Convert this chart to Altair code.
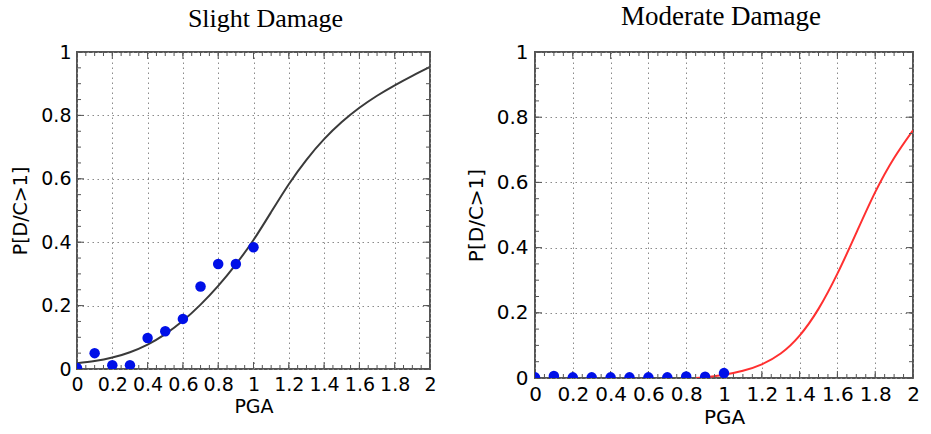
import altair as alt
import pandas as pd

# ---- data ----
pga_points = [0.0, 0.1, 0.2, 0.3, 0.4, 0.5, 0.6, 0.7, 0.8, 0.9, 1.0]
slight_points = [0.003, 0.05, 0.012, 0.012, 0.098, 0.119, 0.158, 0.26, 0.331, 0.331, 0.384]
moderate_points = [0.002, 0.006, 0.002, 0.002, 0.002, 0.002, 0.002, 0.002, 0.005, 0.004, 0.015]

slight_curve_x = [0.0, 0.1, 0.2, 0.3, 0.4, 0.5, 0.6, 0.7, 0.8, 0.9, 1.0,
                  1.1, 1.2, 1.3, 1.4, 1.5, 1.6, 1.7, 1.8, 1.9, 2.0]
slight_curve_y = [0.018, 0.025, 0.036, 0.053, 0.077, 0.11, 0.152, 0.203, 0.262, 0.33, 0.407,
                  0.495, 0.583, 0.66, 0.725, 0.779, 0.824, 0.862, 0.895, 0.925, 0.953]

moderate_curve_x = [0.85, 0.9, 1.0, 1.1, 1.2, 1.3, 1.4, 1.5, 1.6, 1.7, 1.8, 1.9, 2.0]
moderate_curve_y = [0.0, 0.002, 0.01, 0.022, 0.042, 0.075, 0.13, 0.212, 0.32, 0.445, 0.57, 0.675, 0.76]

x_major = [0.0, 0.2, 0.4, 0.6, 0.8, 1.0, 1.2, 1.4, 1.6, 1.8, 2.0]
y_major = [0.0, 0.2, 0.4, 0.6, 0.8, 1.0]
x_minor = [round(i * 0.05, 2) for i in range(41)]
y_minor = [round(i * 0.05, 2) for i in range(21)]

FRAME = "#555555"


def panel(title, cx, cy, py, line_color, w, h, label_size, title_size, title_dx, y_label_pad):
    xs = alt.Scale(domain=[0, 2], nice=False, zero=False)
    ys = alt.Scale(domain=[0, 1], nice=False, zero=False)
    xaxis = alt.Axis(values=x_major, format="~g", title="PGA", grid=True,
                     labelFontSize=label_size, titleFontSize=label_size,
                     labelPadding=6, titlePadding=3)
    yaxis = alt.Axis(values=y_major, format="~g", title="P[D/C>1]", grid=True,
                     labelFontSize=label_size, titleFontSize=label_size,
                     labelPadding=y_label_pad, titlePadding=10)
    X = alt.X("x:Q", scale=xs, axis=xaxis)
    Y = alt.Y("y:Q", scale=ys, axis=yaxis)

    curve = alt.Chart(pd.DataFrame({"x": cx, "y": cy})).mark_line(
        color=line_color, strokeWidth=2, interpolate="natural", clip=True
    ).encode(x=X, y=Y)

    pts = alt.Chart(pd.DataFrame({"x": pga_points, "y": py})).mark_point(
        filled=True, color="#0010e8", opacity=1, size=110, clip=True
    ).encode(x=X, y=Y)

    xmin_df = pd.DataFrame({"x": x_minor})
    xmaj_df = pd.DataFrame({"x": x_major})
    ymin_df = pd.DataFrame({"y": y_minor})
    ymaj_df = pd.DataFrame({"y": y_major})

    def xticks(df, length):
        b = alt.Chart(df).mark_rule(color=FRAME, strokeWidth=1).encode(
            x=X, y=alt.value(h), y2=alt.value(h - length))
        t = alt.Chart(df).mark_rule(color=FRAME, strokeWidth=1).encode(
            x=X, y=alt.value(0), y2=alt.value(length))
        return [b, t]

    def yticks(df, length):
        l = alt.Chart(df).mark_rule(color=FRAME, strokeWidth=1).encode(
            y=Y, x=alt.value(0), x2=alt.value(length))
        r = alt.Chart(df).mark_rule(color=FRAME, strokeWidth=1).encode(
            y=Y, x=alt.value(w), x2=alt.value(w - length))
        return [l, r]

    layers = [curve] + xticks(xmin_df, 4) + xticks(xmaj_df, 7) + \
        yticks(ymin_df, 4) + yticks(ymaj_df, 7) + [pts]
    return alt.layer(*layers).properties(
        width=w, height=h,
        title=alt.TitleParams(title, font="Liberation Serif", fontSize=title_size,
                              fontWeight="normal", color="black", dx=title_dx,
                              offset=11, anchor="middle"),
    )


left = panel("Slight Damage", slight_curve_x, slight_curve_y, slight_points,
             "#3a3a3a", 353, 317, 19, 26, 12, 6)
right = panel("Moderate Damage", moderate_curve_x, moderate_curve_y, moderate_points,
              "#ff3030", 378, 326, 20, 27, -3, 7)

chart = alt.hconcat(left, right, spacing=27).properties(
    padding={"left": 10, "top": 2, "right": 5, "bottom": 2},
    background="white",
).configure_view(
    stroke=FRAME, strokeWidth=2
).configure_axis(
    domain=False, ticks=False,
    labelFont="DejaVu Sans", titleFont="DejaVu Sans",
    labelColor="black", titleColor="black",
    titleFontWeight="normal",
    gridColor="#8a8a8a", gridDash=[1.5, 3.5], gridWidth=1, gridOpacity=1,
    labelFlush=False, labelOverlap=False,
)

chart.save("out.html", embed_options={"renderer": "svg", "actions": False})
